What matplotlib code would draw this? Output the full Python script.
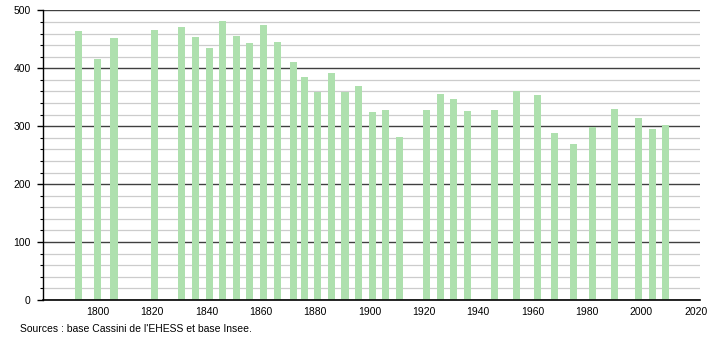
import matplotlib
matplotlib.use("Agg")
import matplotlib.pyplot as plt
from matplotlib.ticker import MultipleLocator

years = [1793, 1800, 1806, 1821, 1831, 1836, 1841, 1846, 1851, 1856, 1861, 1866,
         1872, 1876, 1881, 1886, 1891, 1896, 1901, 1906, 1911, 1921, 1926, 1931,
         1936, 1946, 1954, 1962, 1968, 1975, 1982, 1990, 1999, 2004, 2009]
population = [464, 416, 452, 466, 471, 454, 435, 481, 455, 443, 475, 446,
              411, 385, 359, 392, 359, 370, 324, 328, 281, 328, 356, 347,
              326, 328, 361, 354, 288, 269, 299, 330, 314, 295, 302]
source_text = "Sources : base Cassini de l'EHESS et base Insee."

plt.rcParams['font.family'] = ['Liberation Sans', 'DejaVu Sans']

fig = plt.figure(figsize=(7.1, 3.4), dpi=100)
ax = fig.add_axes([0.061, 0.1176, 0.9256, 0.852])

ax.bar(years, population, width=2.6, color='#aee0ae', edgecolor='none', zorder=3)

ax.set_xlim(1780, 2021.8)
ax.set_ylim(0, 500)
ax.yaxis.set_major_locator(MultipleLocator(100))
ax.yaxis.set_minor_locator(MultipleLocator(20))
ax.set_xticks([1800, 1820, 1840, 1860, 1880, 1900, 1920, 1940, 1960, 1980, 2000, 2020])

ax.grid(which='minor', axis='y', color='#cccccc', linewidth=0.9, zorder=1)
ax.grid(which='major', axis='y', color='#404040', linewidth=1.0, zorder=2)

for s in ['top', 'right']:
    ax.spines[s].set_visible(False)
ax.spines['left'].set_color('black')
ax.spines['bottom'].set_color('black')
ax.spines['left'].set_linewidth(1.0)
ax.spines['bottom'].set_linewidth(1.2)
ax.spines['bottom'].set_zorder(4)

ax.tick_params(axis='y', which='major', length=4, width=1, pad=5, labelsize=7.5)
ax.tick_params(axis='y', which='minor', length=2.5, width=0.8)
ax.tick_params(axis='x', which='major', length=0, pad=5, labelsize=7.5)

fig.text(0.028, 0.024, source_text, fontsize=7.5, ha='left', va='baseline')

fig.savefig("out.png", dpi=100)
